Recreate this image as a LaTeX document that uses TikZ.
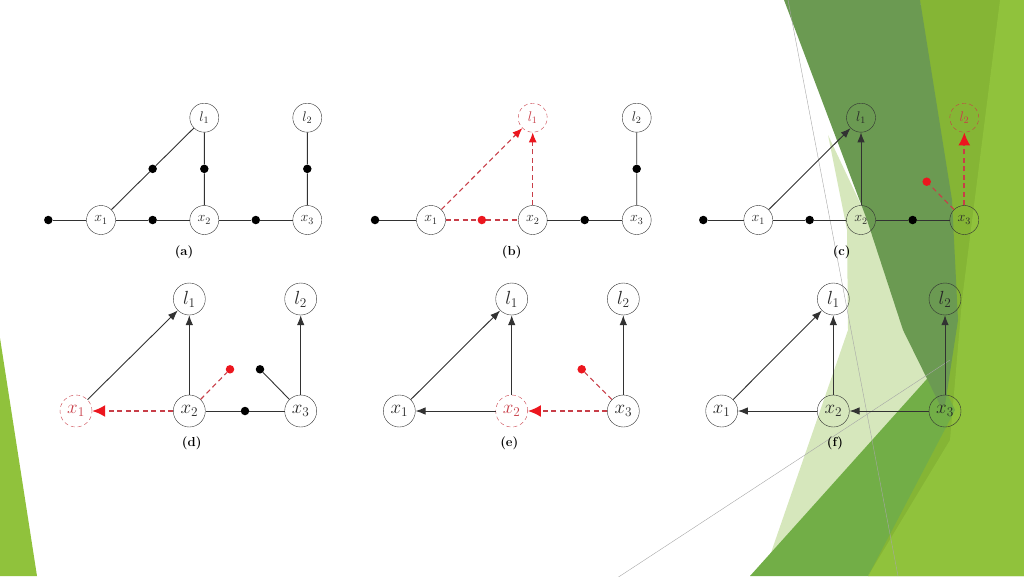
\documentclass[tikz,border=0pt]{standalone}
\usepackage{fix-cm}
\usepackage{tikz}
\usepackage{amsmath}
\usetikzlibrary{arrows.meta,calc}
\definecolor{leafgreen}{RGB}{144,194,60}
\definecolor{mossgreen}{RGB}{133,181,53}
\definecolor{darkgreen}{RGB}{107,154,82}
\definecolor{grassgreen}{RGB}{114,174,71}
\definecolor{palegreen}{RGB}{214,231,188}
\definecolor{linegray}{RGB}{50,50,50}
\definecolor{textgray}{RGB}{40,40,40}
\definecolor{dashred}{RGB}{200,62,72}
\definecolor{tipred}{RGB}{236,22,30}
\newcommand{\smallsize}{29pt}
\newcommand{\bigsize}{32pt}
\newcommand{\dotsize}{8.5pt}
\newcommand{\topfont}{\fontsize{14}{15}\selectfont}
\newcommand{\botfont}{\fontsize{19}{20}\selectfont}
\newcommand{\capfont}{\fontsize{13}{15}\selectfont\bfseries}

\begin{document}
\begin{tikzpicture}[x=1pt,y=-1pt,
  var/.style={draw=linegray,circle,inner sep=0pt,minimum size=\smallsize,font=\topfont,text=textgray},
  bigvar/.style={var,minimum size=\bigsize,font=\botfont},
  lost/.style={dashed,dash pattern=on 4pt off 3pt,draw=dashred,text=dashred},
  fdot/.style={circle,fill=black,inner sep=0pt,minimum size=\dotsize},
  rdot/.style={fdot,fill=tipred},
  link/.style={draw=linegray,line width=0.9pt},
  arr/.style={link,-{Latex[length=10pt,width=7.5pt]}},
  redline/.style={draw=dashred,dash pattern=on 5pt off 3.5pt,line width=1.1pt},
  redarr/.style={redline,-{Latex[length=10pt,width=8pt,color=tipred]}},
  bigredarr/.style={redline,line width=1.7pt,-{Latex[length=13pt,width=12pt,color=tipred]}}]

\useasboundingbox (0,0) rectangle (1024,576);

% Background facets
\fill[leafgreen] (0,338) -- (37,576) -- (0,576) -- cycle;
\fill[mossgreen] (920,0) -- (1024,0) -- (1024,576) -- (868,576) -- (945,390) -- cycle;
\fill[leafgreen] (1000,0) -- (1024,0) -- (1024,576) -- (868,576) -- (950,440) -- (962,300) -- cycle;
\fill[palegreen] (828,135) -- (940,372) -- (765,570) -- (848,330) -- (847,230) -- cycle;
\fill[grassgreen] (750,576) -- (935,370) -- (955,410) -- (868,576) -- cycle;
\fill[darkgreen] (784,0) -- (920,0) -- (952,200) -- (958,320) -- (945,405) -- (940,405) -- (903,330) -- (867,220) -- cycle;
\draw[gray!70,line width=0.4pt] (788,0) -- (898,576);
\draw[gray!70,line width=0.4pt] (617,578) -- (950,360);

% Panel (a)
\node (AX1) [var] at (101,220) {$x_1$};
\node (AX2) [var] at (204.3,220) {$x_2$};
\node (AX3) [var] at (307.3,220) {$x_3$};
\node (AL1) [var] at (204.3,117.7) {$l_1$};
\node (AL2) [var] at (307.3,117.7) {$l_2$};
\node (AF0) [fdot] at (48.3,220) {};
\node (AF1) [fdot] at ($(AX1)!0.5!(AL1)$) {};
\node (AF2) [fdot] at ($(AX2)!0.5!(AL1)$) {};
\node (AF3) [fdot] at ($(AX1)!0.5!(AX2)$) {};
\node (AF4) [fdot] at ($(AX2)!0.5!(AX3)$) {};
\node (AF5) [fdot] at ($(AX3)!0.5!(AL2)$) {};
\draw[link] (AF0) -- (AX1) -- (AF3) -- (AX2) -- (AF4) -- (AX3);
\draw[link] (AX1) -- (AF1) -- (AL1);
\draw[link] (AX2) -- (AF2) -- (AL1);
\draw[link] (AX3) -- (AF5) -- (AL2);
\node (ACAP) [font=\capfont] at (184,252.7) {(a)};

% Panel (b)
\node (BX1) [var] at (431,220) {$x_1$};
\node (BX2) [var] at (532.7,220) {$x_2$};
\node (BX3) [var] at (636.7,220) {$x_3$};
\node (BL1) [var,lost] at (532.7,117.7) {$l_1$};
\node (BL2) [var] at (636.7,117.7) {$l_2$};
\node (BF0) [fdot] at (375,220) {};
\node (BR1) [rdot] at ($(BX1)!0.5!(BX2)$) {};
\node (BF4) [fdot] at ($(BX2)!0.5!(BX3)$) {};
\node (BF5) [fdot] at ($(BX3)!0.5!(BL2)$) {};
\draw[link] (BF0) -- (BX1);
\draw[redline] (BX1) -- (BR1) -- (BX2);
\draw[link] (BX2) -- (BF4) -- (BX3);
\draw[link] (BX3) -- (BF5) -- (BL2);
\draw[redarr] (BX1) -- (BL1);
\draw[redarr] (BX2) -- (BL1);
\node (BCAP) [font=\capfont] at (511.7,252.7) {(b)};

% Panel (c)
\node (CX1) [var] at (758.3,220) {$x_1$};
\node (CX2) [var] at (861,220) {$x_2$};
\node (CX3) [var] at (964.3,220) {$x_3$};
\node (CL1) [var] at (861,117.7) {$l_1$};
\node (CL2) [var,lost] at (964.3,117.7) {$l_2$};
\node (CF0) [fdot] at (703.3,220) {};
\node (CF3) [fdot] at ($(CX1)!0.5!(CX2)$) {};
\node (CF4) [fdot] at ($(CX2)!0.5!(CX3)$) {};
\node (CR1) [rdot] at (926.7,181.7) {};
\draw[link] (CF0) -- (CX1) -- (CF3) -- (CX2) -- (CF4) -- (CX3);
\draw[arr] (CX1) -- (CL1);
\draw[arr] (CX2) -- (CL1);
\draw[redline] (CX3) -- (CR1);
\draw[bigredarr] (CX3) -- (CL2);
\node (CCAP) [font=\capfont] at (841.7,252.7) {(c)};

% Panel (d)
\node (DX1) [bigvar,lost] at (76,411) {$x_1$};
\node (DX2) [bigvar] at (189.3,411) {$x_2$};
\node (DX3) [bigvar] at (300.7,411) {$x_3$};
\node (DL1) [bigvar] at (189.3,299) {$l_1$};
\node (DL2) [bigvar] at (300.7,299) {$l_2$};
\node (DF4) [fdot] at ($(DX2)!0.5!(DX3)$) {};
\node (DF6) [fdot] at (260,369.3) {};
\node (DR1) [rdot] at (230,369.3) {};
\draw[arr] (DX1) -- (DL1);
\draw[arr] (DX2) -- (DL1);
\draw[arr] (DX3) -- (DL2);
\draw[link] (DX2) -- (DF4) -- (DX3);
\draw[link] (DX3) -- (DF6);
\draw[redline] (DX2) -- (DR1);
\draw[bigredarr] (DX2) -- (DX1);
\node (DCAP) [font=\capfont] at (191.7,443) {(d)};

% Panel (e)
\node (EX1) [bigvar] at (399.3,411) {$x_1$};
\node (EX2) [bigvar,lost] at (511.7,411) {$x_2$};
\node (EX3) [bigvar] at (623.3,411) {$x_3$};
\node (EL1) [bigvar] at (511.7,299) {$l_1$};
\node (EL2) [bigvar] at (623.3,299) {$l_2$};
\node (ER1) [rdot] at (581.7,369.3) {};
\draw[arr] (EX1) -- (EL1);
\draw[arr] (EX2) -- (EL1);
\draw[arr] (EX2) -- (EX1);
\draw[arr] (EX3) -- (EL2);
\draw[redline] (EX3) -- (ER1);
\draw[bigredarr] (EX3) -- (EX2);
\node (ECAP) [font=\capfont] at (509.3,443) {(e)};

% Panel (f)
\node (FX1) [bigvar] at (721.7,411) {$x_1$};
\node (FX2) [bigvar] at (833.3,411) {$x_2$};
\node (FX3) [bigvar] at (945,411) {$x_3$};
\node (FL1) [bigvar] at (833.3,299) {$l_1$};
\node (FL2) [bigvar] at (945,299) {$l_2$};
\draw[arr] (FX1) -- (FL1);
\draw[arr] (FX2) -- (FL1);
\draw[arr] (FX2) -- (FX1);
\draw[arr] (FX3) -- (FX2);
\draw[arr] (FX3) -- (FL2);
\node (FCAP) [font=\capfont] at (835,443) {(f)};

\end{tikzpicture}
\end{document}
